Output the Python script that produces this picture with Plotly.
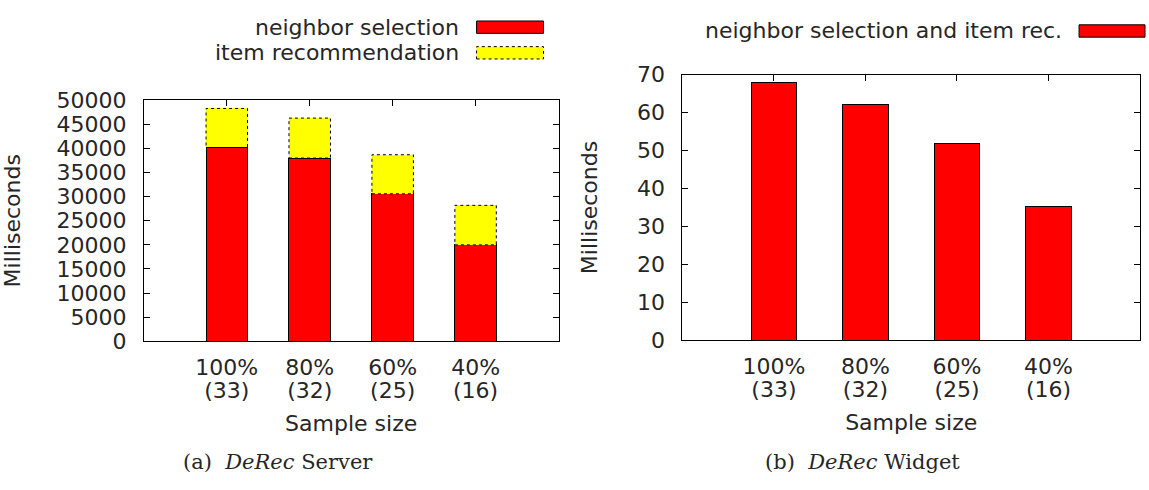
import plotly.graph_objects as go

# ---- data ----
sample_pct = ["100%", "80%", "60%", "40%"]
sample_n = ["(33)", "(32)", "(25)", "(16)"]
neighbor_selection = [40200, 38000, 30600, 20000]
item_recommendation = [8100, 8300, 8100, 8200]
widget_total = [68, 62.2, 51.8, 35.2]

W, H = 1149, 490
def px(x): return x / W
def py(y): return 1 - y / H

FONT = "DejaVu Sans"
TXT = "#262626"
FS = 22
xs = list(range(len(sample_pct)))

fig = go.Figure()
bw = 0.5
fig.add_trace(go.Bar(x=xs, y=neighbor_selection, width=bw, name="neighbor selection",
                     marker=dict(color="#ff0000", line=dict(color="#000000", width=1)),
                     xaxis="x", yaxis="y"))
fig.add_trace(go.Bar(x=xs, y=item_recommendation, width=bw, name="item recommendation",
                     marker=dict(color="#ffff00", line=dict(width=0)),
                     xaxis="x", yaxis="y"))
fig.add_trace(go.Bar(x=xs, y=widget_total, width=bw, name="neighbor selection and item rec.",
                     marker=dict(color="#ff0000", line=dict(color="#000000", width=1)),
                     xaxis="x2", yaxis="y2"))
# empty traces so the second-line label axes are drawn
fig.add_trace(go.Scatter(x=[], y=[], xaxis="x3", yaxis="y", showlegend=False, hoverinfo="skip"))
fig.add_trace(go.Scatter(x=[], y=[], xaxis="x4", yaxis="y2", showlegend=False, hoverinfo="skip"))

shapes = []
# dashed outlines of the stacked yellow segments (derived from data)
for i, (a, b) in enumerate(zip(neighbor_selection, item_recommendation)):
    shapes.append(dict(type="rect", xref="x", yref="y", x0=xs[i] - bw / 2, x1=xs[i] + bw / 2,
                       y0=a, y1=a + b, line=dict(color="#000000", width=1, dash="dot")))

tickfont = dict(family=FONT, size=FS, color=TXT)
def xaxis_cfg(domain, anchor):
    return dict(domain=domain, anchor=anchor, range=[-1, 4], tickvals=xs, ticktext=sample_pct,
                ticks="inside", ticklen=6, showline=True, linecolor="#000", linewidth=1,
                mirror="ticks", tickfont=tickfont, showgrid=False, zeroline=False,
                layer="below traces", tickcolor="#000", ticklabelstandoff=6)

def xaxis_second_line(overlay, anchor):
    return dict(overlaying=overlay, anchor=anchor, range=[-1, 4], tickvals=xs,
                ticktext=sample_n, ticks="", showline=False, showgrid=False, zeroline=False,
                tickfont=tickfont, ticklabelstandoff=34, side="bottom",
                title=dict(text="Sample size", font=dict(family=FONT, size=FS, color=TXT),
                           standoff=13))

def yaxis_cfg(domain, anchor, standoff):
    return dict(domain=domain, anchor=anchor, ticks="inside", ticklen=6, showline=True,
                linecolor="#000", linewidth=1, mirror="ticks", tickfont=tickfont,
                showgrid=False, zeroline=False, layer="below traces", tickcolor="#000",
                ticklabelstandoff=12,
                title=dict(text="Milliseconds", font=dict(family=FONT, size=FS, color=TXT),
                           standoff=standoff))

fig.update_layout(
    width=W, height=H, margin=dict(l=0, r=0, t=0, b=0),
    paper_bgcolor="white", plot_bgcolor="white",
    barmode="stack", showlegend=False,
    xaxis=xaxis_cfg([px(143), px(558)], "y"),
    yaxis=dict(range=[0, 50000], dtick=5000, tickformat="d",
               **yaxis_cfg([py(347), py(93)], "x", 41)),
    xaxis2=xaxis_cfg([px(682), px(1140)], "y2"),
    yaxis2=dict(range=[0, 70], dtick=10, **yaxis_cfg([py(346), py(66)], "x2", 33)),
    xaxis3=xaxis_second_line("x", "y"),
    xaxis4=xaxis_second_line("x2", "y2"),
)

# custom gnuplot-style key (text, then sample box on the right)
annotations = []
def key(text, tx, ty, kx0, kx1, color, dash):
    annotations.append(dict(text=text, x=px(tx), y=py(ty), xref="paper", yref="paper",
                            xanchor="right", yanchor="middle", showarrow=False,
                            font=dict(family=FONT, size=FS, color=TXT)))
    shapes.append(dict(type="rect", xref="paper", yref="paper", x0=px(kx0), x1=px(kx1),
                       y0=py(ty + 6.5), y1=py(ty - 6.5), fillcolor=color,
                       line=dict(color="#000", width=1, dash=dash)))

key("neighbor selection", 460, 16, 476, 543, "#ff0000", "solid")
key("item recommendation", 460, 43, 476, 543, "#ffff00", "dot")
key("neighbor selection and item rec.", 1064, 20, 1079, 1145, "#ff0000", "solid")

for txt, cx in [("(a)  <i>DeRec</i> Server", 277), ("(b)  <i>DeRec</i> Widget", 862)]:
    annotations.append(dict(text=txt, x=px(cx), y=py(474), xref="paper", yref="paper",
                            xanchor="center", yanchor="middle", showarrow=False,
                            font=dict(family="DejaVu Serif", size=21, color=TXT)))

fig.update_layout(shapes=shapes, annotations=annotations)
fig.write_html("out.html")
